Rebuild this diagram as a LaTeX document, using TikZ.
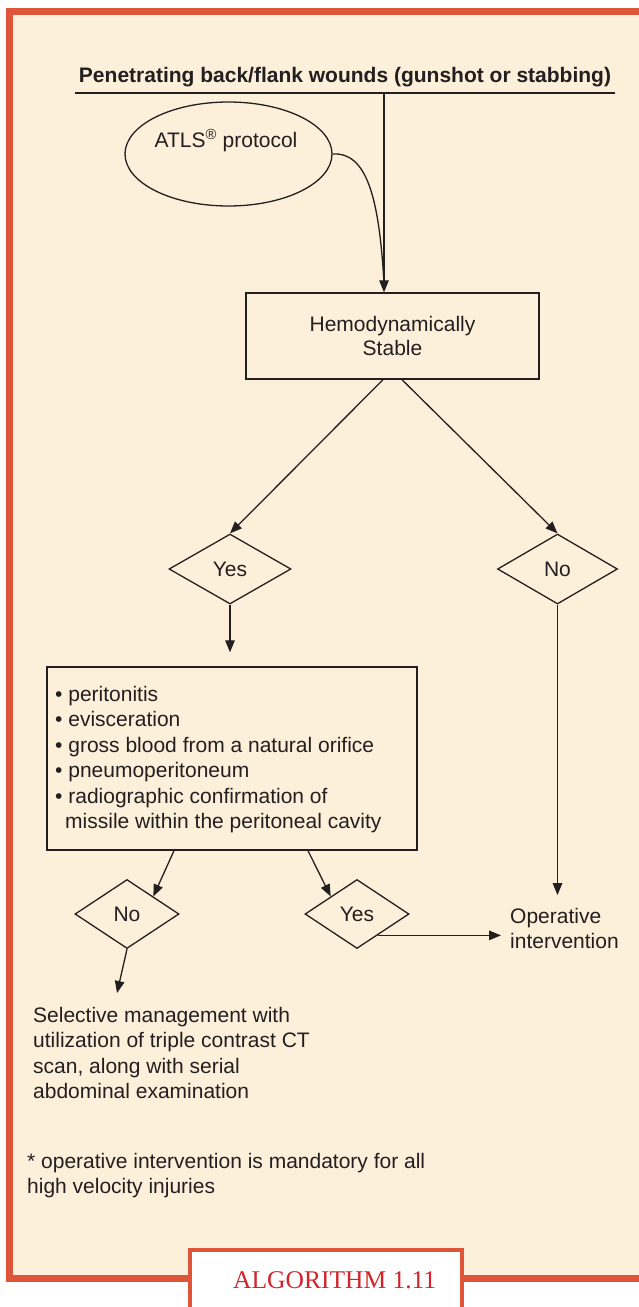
\documentclass[tikz,border=0pt]{standalone}
\usepackage{fontspec}
\setmainfont{Liberation Sans}
\newfontfamily\labelserif{Liberation Serif}
\usetikzlibrary{shapes.geometric,arrows.meta,calc}
\definecolor{frameorange}{HTML}{DF5539}
\definecolor{cream}{HTML}{FDF0DA}
\definecolor{ink}{HTML}{231F20}
\definecolor{algred}{HTML}{D4232B}
\begin{document}
\begin{tikzpicture}[x=1pt,y=-1pt,
  every node/.style={font=\fontsize{21}{25.5}\selectfont, text=ink},
  arr/.style={draw=ink, line width=1.3pt, -{Triangle[length=12pt,width=9.5pt]}},
  conn/.style={draw=ink, line width=1.3pt},
  boxnode/.style={draw=ink, line width=1.4pt, rectangle, inner sep=0pt},
  choice/.style={draw=ink, line width=1.3pt, diamond, inner sep=0pt},
  plain/.style={inner sep=0pt, align=left},
]
\useasboundingbox (0,0) rectangle (639,1307);
\clip (0,0) rectangle (639,1307);
\fill[white] (0,0) rectangle (639,1307);
% framed panel
\draw[frameorange, line width=7pt, fill=cream] (9.5,11.5) rectangle (700,1278.5);

% heading with rule
\node[font=\fontsize{21}{25}\selectfont\bfseries, anchor=base, inner sep=0pt] (title) at (345,82)
  {Penetrating back/flank wounds (gunshot or stabbing)};
\coordinate (ulL) at (75,93);
\coordinate (ulR) at (615,93);
\draw[ink, line width=2.6pt] (ulL) -- (ulR);

% ATLS ellipse
\node[ellipse, draw=ink, line width=1.3pt, minimum width=207pt, minimum height=104pt, inner sep=0pt] (atls) at (228.5,154) {};
\node[anchor=base, inner sep=0pt] (atlstext) at (226,147) {ATLS\textsuperscript{®} protocol};

% hemodynamic status
\node[boxnode, minimum width=293pt, minimum height=86pt, align=center] (hemo) at (392.5,336)
  {Hemodynamically\\[-1.5pt]Stable};
\coordinate (feed) at ([xshift=-8.5pt]hemo.north);
\draw[arr] (feed |- ulL) -- (feed);
\draw[conn] (atls.east) .. controls (366,152) and (379,195) .. ([yshift=9pt]feed);

% first decision
\node[choice, minimum width=122pt, minimum height=70pt] (yes1) at (230,569) {Yes};
\node[choice, minimum width=120pt, minimum height=70pt] (no1) at (557.5,569) {No};
\draw[arr] ([xshift=-9.5pt]hemo.south) -- (yes1.north);
\draw[arr] ([xshift=9.5pt]hemo.south) -- (no1.north);

% findings list (anchored on the baseline of its last line)
\node[boxnode, minimum width=370pt, minimum height=183pt] (list) at (232,758.5) {};
\node[plain, anchor=base west] (listtext) at (55,828.5)
  {• peritonitis\\
   • evisceration\\
   • gross blood from a natural orifice\\
   • pneumoperitoneum\\
   • radiographic confirmation of\\
   \hspace*{10pt}missile within the peritoneal cavity};
\draw[arr, shorten >=14pt] (yes1.south) -- (yes1.south |- list.north);

% second decision
\node[choice, minimum width=104pt, minimum height=69pt] (no2) at (127,914) {No};
\node[choice, minimum width=104pt, minimum height=69pt] (yes2) at (357,914) {Yes};
\draw[arr] ([xshift=-58pt]list.south) -- (no2.north east);
\draw[arr] ([xshift=76pt]list.south) -- (yes2.north west);

% outcomes
\node[plain, anchor=base west, inner xsep=9pt] (op) at (501,948.5) {Operative\\intervention};
\draw[arr, shorten >=12.5pt] (no1.south) -- (no1.south |- op.north);
\draw[arr] (yes2.-46) -- (yes2.-46 -| op.west);

\node[plain, anchor=base west] (sel) at (33,1098.5)
  {Selective management with\\
   utilization of triple contrast CT\\
   scan, along with serial\\
   abdominal examination};
\coordinate (selin) at (117,993);
\draw[arr] (no2.south) -- (selin);

\node[plain, anchor=base west] (note) at (27,1193.5)
  {* operative intervention is mandatory for all\\
   high velocity injuries};

% caption tab
\node[draw=frameorange, line width=4pt, fill=white, rectangle, minimum width=272pt, minimum height=100pt,
  anchor=north west, inner sep=0pt] (alg) at (188,1248) {};
\node[font=\labelserif\fontsize{25.5}{30}\selectfont, text=algred, anchor=base west, inner sep=0pt] (algtext) at (233,1288)
  {ALGORITHM 1.11};
\end{tikzpicture}
\end{document}
